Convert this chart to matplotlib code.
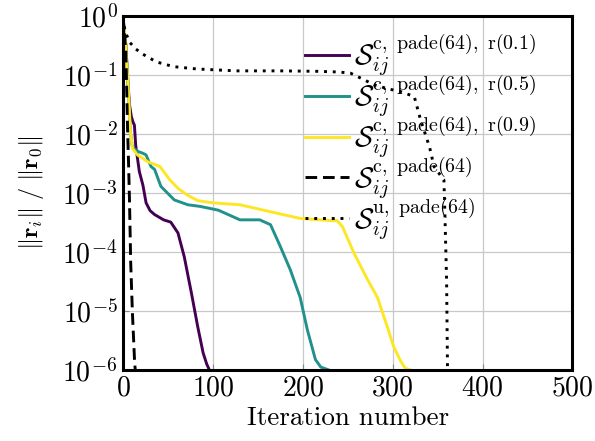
import matplotlib
matplotlib.use("Agg")
import matplotlib.pyplot as plt

plt.rcParams["font.family"] = "serif"
plt.rcParams["font.serif"] = ["cmr10", "DejaVu Serif"]
plt.rcParams["mathtext.fontset"] = "cm"
plt.rcParams["axes.formatter.use_mathtext"] = True

# residual histories
it_r01 = [0, 0.6, 3, 5, 7, 9, 11, 12.5, 14, 18, 22, 25.5, 30, 35, 45, 53, 61, 68, 76, 83, 89, 93, 96]
res_r01 = [1.0, 0.69, 0.316, 0.087, 0.0316, 0.02, 0.0158, 0.0141, 6.3e-3, 2.3e-3, 1.35e-3, 6.8e-4,
           5.0e-4, 4.3e-4, 3.5e-4, 3.2e-4, 2.1e-4, 8.3e-5, 2.0e-5, 5.4e-6, 1.95e-6, 1.26e-6, 1.0e-6]

it_r05 = [0, 0.6, 3, 5, 7, 8, 10, 12.5, 17, 22, 25.5, 31, 35, 42, 57, 72, 86, 106, 130, 152, 164,
          175, 186, 197, 205, 214, 220, 229]
res_r05 = [1.0, 0.69, 0.316, 0.087, 0.0234, 0.0107, 6.3e-3, 5.6e-3, 5.0e-3, 4.7e-3, 4.4e-3, 2.8e-3,
           2.5e-3, 1.29e-3, 7.6e-4, 6.3e-4, 5.9e-4, 5.1e-4, 3.5e-4, 3.5e-4, 2.9e-4,
           1.23e-4, 5.0e-5, 1.7e-5, 4.8e-6, 1.5e-6, 1.12e-6, 1.0e-6]

it_r09 = [0, 0.6, 3, 5, 7, 8, 10.6, 16, 27, 41, 52, 61, 71, 83, 100, 130, 164, 197, 231, 238, 244,
          257, 272, 283, 294, 301, 309, 314, 320]
res_r09 = [1.0, 0.69, 0.316, 0.087, 0.0234, 0.0107, 5.6e-3, 4.4e-3, 3.4e-3, 2.8e-3, 1.66e-3, 1.2e-3,
           9.3e-4, 7.4e-4, 6.8e-4, 6.3e-4, 4.8e-4, 3.7e-4, 3.4e-4, 3.4e-4, 2.7e-4,
           9.5e-5, 3.4e-5, 1.7e-5, 5.4e-6, 2.5e-6, 1.4e-6, 1.07e-6, 1.0e-6]

it_c = [0, 0.6, 3, 4, 5, 6, 7, 8.4, 10.3, 12.8, 13.5]
res_c = [1.0, 0.69, 0.25, 0.05, 0.0107, 3.2e-3, 8.0e-4, 6.5e-5, 9.3e-6, 1.3e-6, 1.0e-6]

it_u = [0, 2, 7, 14, 22, 37, 56, 82, 126, 175, 216, 240, 253, 268, 279, 295, 309, 324, 331, 341,
        346, 352, 357, 358, 360, 361]
res_u = [0.93, 0.56, 0.36, 0.275, 0.224, 0.166, 0.138, 0.126, 0.117, 0.117, 0.115, 0.112, 0.107,
         0.083, 0.068, 0.058, 0.052, 0.043, 0.0174, 6.0e-3, 2.8e-3, 2.1e-3, 1.66e-3, 5.0e-4,
         3.2e-5, 1.0e-6]

labels = [
    r"$\mathcal{S}_{ij}^{\mathrm{c,\ pade(64),\ r(0.1)}}$",
    r"$\mathcal{S}_{ij}^{\mathrm{c,\ pade(64),\ r(0.5)}}$",
    r"$\mathcal{S}_{ij}^{\mathrm{c,\ pade(64),\ r(0.9)}}$",
    r"$\mathcal{S}_{ij}^{\mathrm{c,\ pade(64)}}$",
    r"$\mathcal{S}_{ij}^{\mathrm{u,\ pade(64)}}$",
]

fig = plt.figure(figsize=(5.95, 4.41), dpi=100)
ax = fig.add_axes([0.207, 0.161, 0.755, 0.803])

ax.plot(it_r01, res_r01, color="#440154", lw=2.1, label=labels[0])
ax.plot(it_r05, res_r05, color="#21918c", lw=2.1, label=labels[1])
ax.plot(it_r09, res_r09, color="#fde725", lw=2.1, label=labels[2])
ax.plot(it_c, res_c, color="black", lw=2.1, ls=(0, (4, 2)), label=labels[3])
ax.plot(it_u, res_u, color="black", lw=2.1, ls=(0, (1, 2)), label=labels[4])

ax.set_yscale("log")
ax.set_xlim(0, 500)
ax.set_ylim(1e-6, 1)
ax.set_xticks([0, 100, 200, 300, 400, 500])
ax.set_yticks([1e-6, 1e-5, 1e-4, 1e-3, 1e-2, 1e-1, 1])
ax.minorticks_off()
ax.grid(True, color="#c8c8c8", lw=0.9)
ax.set_axisbelow(True)
ax.tick_params(direction="in", length=4, color="#888888", labelsize=20, pad=4)
for s in ax.spines.values():
    s.set_linewidth(2.2)

ax.set_xlabel("Iteration number", fontsize=19.5)
ax.set_ylabel(r"$\|\mathbf{r}_i\|\ /\ \|\mathbf{r}_0\|$", fontsize=17.5)
ax.xaxis.set_label_coords(0.5, -0.103)
ax.yaxis.set_label_coords(-0.172, 0.5)

# legend overlaps itself in the original too (tall labels, tight spacing)
leg = ax.legend(loc="upper left", bbox_to_anchor=(0.38, 0.985), frameon=False, fontsize=20.5,
                handlelength=1.55, handletextpad=0.15, labelspacing=-0.17, borderaxespad=0)

fig.savefig("out.png", dpi=100)
